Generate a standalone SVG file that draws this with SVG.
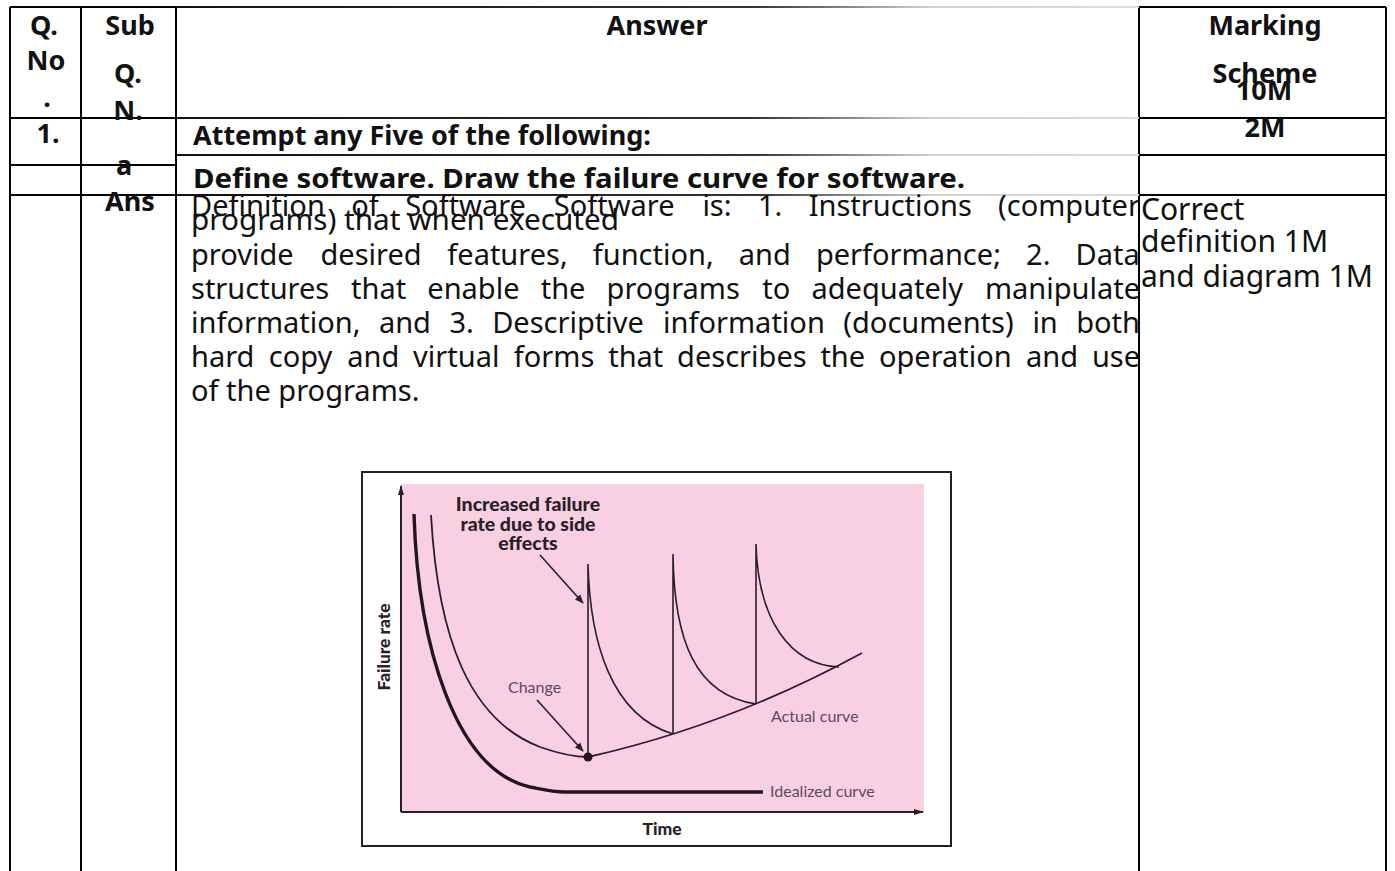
<svg xmlns="http://www.w3.org/2000/svg" width="1395" height="871" viewBox="0 0 1395 871">
  <style>
    .grid { stroke: #000; stroke-width: 2; fill: none; }
    .soft { stroke: url(#fadeLine); stroke-width: 2; fill: none; }
    .hd { font-family: "Noto Sans", "Liberation Sans", sans-serif; font-weight: 700; font-size: 27px; fill: #111; }
    .hm { font-family: "Noto Sans", "Liberation Sans", sans-serif; font-weight: 700; font-size: 27px; fill: #111; }
    .body { font-family: "Noto Sans", "Liberation Sans", sans-serif; font-size: 29px; fill: #111; }
    .mark { font-family: "Noto Sans", "Liberation Sans", sans-serif; font-size: 30px; fill: #111; }
    .c { text-anchor: middle; }
    .curve { fill: none; stroke: #2a1f27; stroke-width: 1.8; }
    .spike { fill: none; stroke: #2a1f27; stroke-width: 1.6; }
    .ideal { fill: none; stroke: #1f171c; stroke-width: 3.4; }
    .axis { fill: none; stroke: #2a1f27; stroke-width: 2; }
    .lblB { font-family: Lato, "Noto Sans", sans-serif; font-weight: 900; fill: #2a2126; }
    .lbl { font-family: Lato, "Noto Sans", sans-serif; font-size: 16px; fill: #5e4b58; }
  </style>
  <defs>
    <linearGradient id="fadeLine" gradientUnits="userSpaceOnUse" x1="176" y1="0" x2="1139" y2="0">
      <stop offset="0" stop-color="#111"/>
      <stop offset="0.6" stop-color="#333"/>
      <stop offset="0.78" stop-color="#cfcfcf"/>
      <stop offset="1" stop-color="#dcdcdc"/>
    </linearGradient>
    <marker id="head" viewBox="0 0 10 10" refX="9" refY="5" markerWidth="9" markerHeight="9" markerUnits="userSpaceOnUse" orient="auto">
      <path d="M0,1 L10,5 L0,9 Z" fill="#2a1f27"/>
    </marker>
    <marker id="axisHead" viewBox="0 0 10 10" refX="9" refY="5" markerWidth="14" markerHeight="10" markerUnits="userSpaceOnUse" orient="auto">
      <path d="M0,2 L10,5 L0,8 Z" fill="#2a1f27"/>
    </marker>
  </defs>

  <rect width="1395" height="871" fill="#fff"/>

  <!-- table rules -->
  <g id="table-grid">
    <path class="grid" d="M10,7 V871 M81,7 V871 M176,7 V871 M1139,7 V871 M1386,7 V871"/>
    <path class="grid" d="M10,7 H176 M10,118 H176 M10,165 H176 M10,195 H176"/>
    <path class="grid" d="M1139,7 H1386 M1139,118 H1386 M1139,155 H1386 M1139,195 H1386"/>
    <path class="soft" d="M176,7 H1139 M176,118 H1139 M176,155 H1139 M176,195 H1139"/>
  </g>

  <!-- header row -->
  <g id="header">
    <text class="hd c" x="44" y="35">Q.</text>
    <text class="hd c" x="46" y="70">No</text>
    <text class="hd c" x="47" y="107">.</text>
    <text class="hd c" x="130" y="35">Sub</text>
    <text class="hd c" x="128" y="83">Q.</text>
    <text class="hd c" x="128" y="120">N.</text>
    <text class="hd c" x="657" y="35">Answer</text>
    <text class="hd c" x="1265" y="35">Marking</text>
    <text class="hd c" x="1265" y="83">Scheme</text>
    <text class="hd c" x="1264" y="100">10M</text>
  </g>

  <g id="row-question">
    <text class="hd c" x="48" y="143">1.</text>
    <text class="hm" x="193" y="145">Attempt any Five of the following:</text>
    <text class="hd c" x="1265" y="137">2M</text>
  </g>

  <g id="row-sub-a">
    <text class="hd c" x="124" y="175">a</text>
    <text class="hm" x="193" y="188" textLength="772" lengthAdjust="spacingAndGlyphs">Define software. Draw the failure curve for software.</text>
  </g>

  <!-- justified answer paragraph: one tspan per word -->
  <g id="row-answer">
    <text class="hd c" x="130" y="211">Ans</text>
    <text class="body" y="216"><tspan x="191">Definition</tspan><tspan x="351.3">of</tspan><tspan x="405.2">Software</tspan><tspan x="553.8">Software</tspan><tspan x="702.4">is:</tspan><tspan x="757.9">1.</tspan><tspan x="808.7">Instructions</tspan><tspan x="998.1">(computer</tspan></text>
    <text class="body" x="191" y="230" textLength="428" lengthAdjust="spacingAndGlyphs">programs) that when executed</text>
    <text class="body" y="265"><tspan x="191">provide</tspan><tspan x="320.5">desired</tspan><tspan x="447.3">features,</tspan><tspan x="592.8">function,</tspan><tspan x="738.8">and</tspan><tspan x="815.9">performance;</tspan><tspan x="1026.1">2.</tspan><tspan x="1075.6">Data</tspan></text>
    <text class="body" y="299"><tspan x="191">structures</tspan><tspan x="351">that</tspan><tspan x="427.3">enable</tspan><tspan x="540.7">the</tspan><tspan x="606.6">programs</tspan><tspan x="762.3">to</tspan><tspan x="811.5">adequately</tspan><tspan x="984.9">manipulate</tspan></text>
    <text class="body" y="333"><tspan x="191">information,</tspan><tspan x="378.9">and</tspan><tspan x="449.4">3.</tspan><tspan x="492.2">Descriptive</tspan><tspan x="663.1">information</tspan><tspan x="843.3">(documents)</tspan><tspan x="1032.4">in</tspan><tspan x="1076.2">both</tspan></text>
    <text class="body" y="367"><tspan x="191">hard</tspan><tspan x="268.8">copy</tspan><tspan x="347.3">and</tspan><tspan x="413.1">virtual</tspan><tspan x="513.8">forms</tspan><tspan x="608.2">that</tspan><tspan x="677.1">describes</tspan><tspan x="820.4">the</tspan><tspan x="878.9">operation</tspan><tspan x="1026.1">and</tspan><tspan x="1091.9">use</tspan></text>
    <text class="body" x="191" y="401">of the programs.</text>
    <text class="mark" x="1141" y="220">Correct</text>
    <text class="mark" x="1141" y="252">definition 1M</text>
    <text class="mark" x="1141" y="287">and diagram 1M</text>
  </g>

  <!-- failure curve figure -->
  <g id="failure-chart">
    <rect x="362" y="472" width="589" height="374" fill="#fff" stroke="#222" stroke-width="2"/>
    <rect x="401" y="484" width="523" height="328" fill="#f8d0e2"/>
    <path class="axis" d="M401,812 V486" marker-end="url(#axisHead)"/>
    <path class="axis" d="M401,812 H923" marker-end="url(#axisHead)"/>

    <path class="ideal" d="M414,514 C418,645 455,770 530,787 C545,790 552,792 565,792 L763,792"/>
    <path class="curve" d="M431,515 C438,640 470,720 540,747 C560,754 575,757 588,757 Q730,725 862,653"/>
    <path class="spike" d="M588,757 V564 C590,640 610,715 673,734"/>
    <path class="spike" d="M673,734 V554 C674,640 695,695 756,704"/>
    <path class="spike" d="M756,704 V544 C758,620 790,665 839,667"/>
    <circle cx="588" cy="757" r="4.5" fill="#1f171c"/>

    <path class="spike" d="M540,555 L583,603" marker-end="url(#head)"/>
    <path class="spike" d="M537,700 L583,751" marker-end="url(#head)"/>

    <text class="lblB c" font-size="19.5" x="528" y="511">Increased failure</text>
    <text class="lblB c" font-size="19.5" x="528" y="531">rate due to side</text>
    <text class="lblB c" font-size="19.5" x="528" y="550">effects</text>
    <text class="lbl" x="508" y="693">Change</text>
    <text class="lbl" x="771" y="722">Actual curve</text>
    <text class="lbl" x="770" y="797">Idealized curve</text>
    <text class="lblB c" font-size="17.5" x="662" y="835">Time</text>
    <text class="lblB c" font-size="16.5" transform="translate(390,647) rotate(-90)" textLength="87" lengthAdjust="spacingAndGlyphs">Failure rate</text>
  </g>
</svg>
